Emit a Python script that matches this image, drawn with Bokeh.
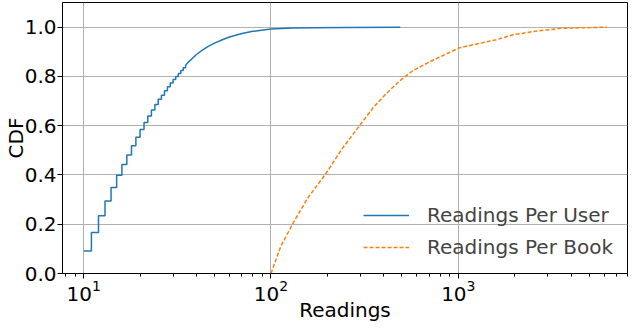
from bokeh.plotting import figure
from bokeh.models import (Range1d, Legend, LegendItem, FixedTicker, LogTickFormatter,
                          CustomJSTickFormatter)
from bokeh.embed import file_html
from bokeh.resources import INLINE

# Readings per user: stepwise CDF at integer thresholds
user_step_x = [10, 11, 12, 13, 14, 15, 16, 17, 18, 19, 20, 21, 22, 23, 24, 25,
               26, 27, 28, 29, 30, 31, 32, 33, 34, 35]
user_step_y = [0.091, 0.166, 0.234, 0.294, 0.349, 0.399, 0.442, 0.481, 0.519,
               0.553, 0.584, 0.613, 0.639, 0.664, 0.686, 0.707, 0.724, 0.742,
               0.758, 0.773, 0.787, 0.800, 0.812, 0.824, 0.835, 0.845]
# Readings per user: tail (steps too small to see)
user_tail_x = [35, 36, 38, 40, 43, 46, 50, 55, 60, 70, 80, 100, 130, 170, 250, 490]
user_tail_y = [0.845, 0.856, 0.873, 0.889, 0.907, 0.921, 0.935, 0.949, 0.960,
               0.974, 0.983, 0.992, 0.996, 0.998, 0.999, 1.0]

# Readings per book
book_x = [100, 113, 134, 158, 194, 239, 294, 353, 408, 482, 568, 698, 1012,
          1596, 1960, 2512, 3490, 6220]
book_y = [0.0, 0.112, 0.217, 0.309, 0.400, 0.505, 0.596, 0.675, 0.727, 0.779,
          0.822, 0.858, 0.916, 0.949, 0.969, 0.982, 0.995, 1.0]

x_major = [10, 100, 1000]
x_minor = [m * 10 ** e for e in (0, 1, 2, 3) for m in range(2, 10)]
y_major = [0.0, 0.2, 0.4, 0.6, 0.8, 1.0]

BLUE = "#1f77b4"
ORANGE = "#ff7f0e"
FONT = "DejaVu Sans"
FS = "20px"

p = figure(width=628, height=324, x_axis_type="log",
           x_range=Range1d(7.71, 8000), y_range=Range1d(0, 1.1),
           output_backend="svg", toolbar_location=None,
           min_border_left=40, min_border_right=1, min_border_top=2,
           min_border_bottom=30, x_axis_label="Readings", y_axis_label="CDF")

p.outline_line_color = "black"
p.outline_line_width = 1
p.outline_line_alpha = 1

p.xaxis.ticker = FixedTicker(ticks=x_major, minor_ticks=x_minor)
p.xaxis.formatter = LogTickFormatter()
p.yaxis.ticker = FixedTicker(ticks=y_major)
p.yaxis.formatter = CustomJSTickFormatter(code="return tick.toFixed(1);")

for ax in (p.xaxis[0], p.yaxis[0]):
    ax.axis_line_color = "black"
    ax.major_tick_line_color = "black"
    ax.major_tick_out = 5
    ax.major_tick_in = 0
    ax.major_label_text_font = FONT
    ax.major_label_text_font_size = FS
    ax.major_label_text_color = "black"
    ax.axis_label_text_font = FONT
    ax.axis_label_text_font_size = FS
    ax.axis_label_text_font_style = "normal"
    ax.axis_label_text_color = "black"
    ax.major_label_standoff = 1

p.xaxis.axis_label_standoff = -6
p.yaxis.axis_label_standoff = -6

p.xaxis.minor_tick_line_color = "black"
p.xaxis.minor_tick_out = 3
p.xaxis.minor_tick_in = 0
p.yaxis.minor_tick_line_color = None

p.grid.grid_line_color = "#b0b0b0"
p.grid.grid_line_width = 1

p.step(user_step_x, user_step_y, mode="after", line_color=BLUE, line_width=1.5)
r_user = p.line(user_tail_x, user_tail_y, line_color=BLUE, line_width=1.5)
r_book = p.line(book_x, book_y, line_color=ORANGE, line_width=1.5, line_dash="4 2")

legend = Legend(items=[LegendItem(label="Readings Per User", renderers=[r_user]),
                       LegendItem(label="Readings Per Book", renderers=[r_book])],
                location="bottom_right", background_fill_alpha=0,
                border_line_alpha=0, label_text_font=FONT,
                label_text_font_size=FS, glyph_width=46, label_standoff=18,
                spacing=8, margin=8, padding=6)
p.add_layout(legend)

open("out.html", "w").write(file_html(p, INLINE))
